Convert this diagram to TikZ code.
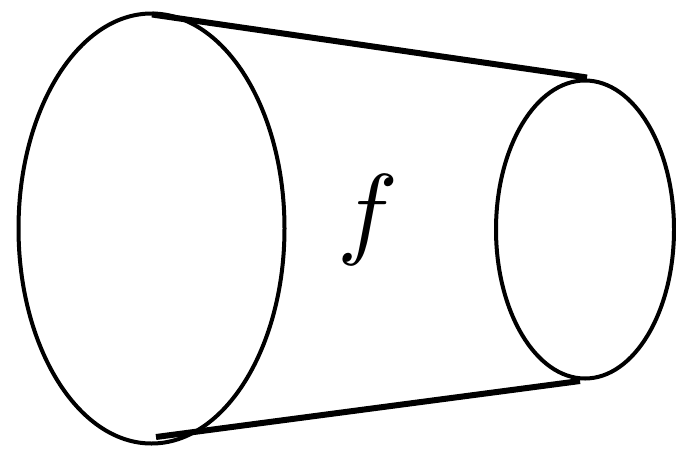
\documentclass[tikz,border=0pt]{standalone}
\usepackage{amsmath,amssymb}
\usetikzlibrary{shapes.geometric}

\begin{document}
\begin{tikzpicture}[
    x=1pt, y=-1pt,
    rim/.style={ellipse, draw, line width=4pt, inner sep=0pt},
    side/.style={line width=6pt}
]
\useasboundingbox (0,0) rectangle (676,450);

% Ends of the tube
\node[rim, minimum width=266pt, minimum height=430pt] (wide) at (151.5,228.5) {};
\node[rim, minimum width=178pt, minimum height=298pt] (narrow) at (585,229.5) {};

% Map label
\node[scale=10.2] (map) at (368,220) {$f$};

% Sides
\coordinate (wtop) at (152,14.5);
\coordinate (wbot) at (156,437);
\coordinate (ntop) at (587,77.5);
\coordinate (nbot) at (580,381);
\draw[side] (wtop) -- (ntop);
\draw[side] (wbot) -- (nbot);

\end{tikzpicture}
\end{document}
